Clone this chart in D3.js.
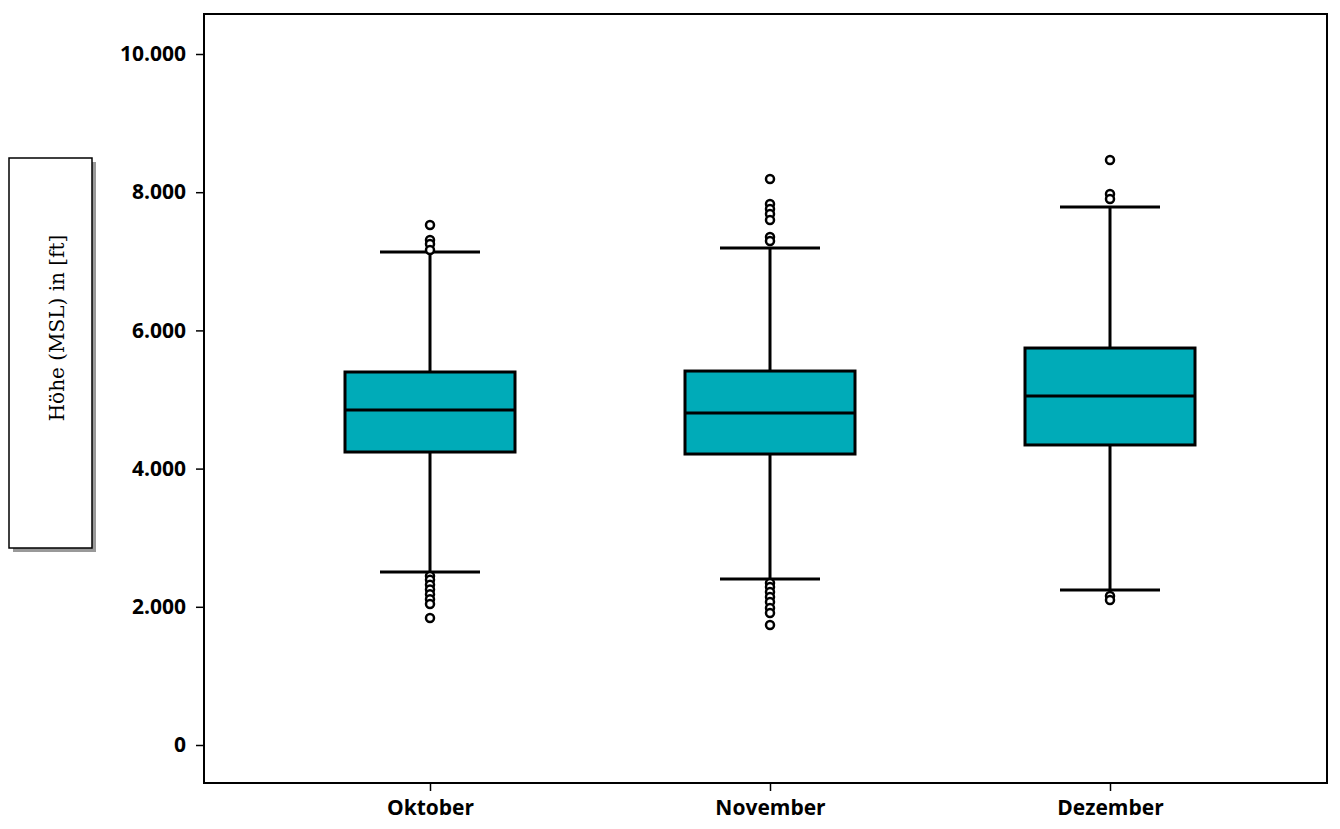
<!DOCTYPE html>
<html><head><meta charset="utf-8">
<script src="https://cdn.jsdelivr.net/npm/d3@7"></script>
<style>body{margin:0;background:#fff}</style>
</head><body>
<svg id="chart" width="1340" height="829"></svg>
<script>
// Höhe per Monat
var months = ["Oktober", "November", "Dezember"];
var whiskerLow = [2504, 2402, 2243];
var q1 = [4240, 4211, 4342];
var median = [4848, 4805, 5051];
var q3 = [5398, 5412, 5745];
var whiskerHigh = [7134, 7192, 7786];
var outliers = [
  [7525, 7308, 7250, 7163, 2445, 2390, 2320, 2250, 2180, 2110, 2040, 1838],
  [8191, 7829, 7757, 7685, 7598, 7352, 7294, 2344, 2286, 2214, 2142, 2069, 1982, 1910, 1737],
  [8466, 7974, 7902, 2156, 2098]
];
var yTicks = [0, 2000, 4000, 6000, 8000, 10000];

var svg = d3.select("#chart");
var plotLeft = 204, plotTop = 14, plotRight = 1327, plotBottom = 783;

var x = d3.scalePoint().domain(months).range([430, 1110]);
var y = d3.scaleLinear().domain([0, 10000]).range([745, 54]);
var fmt = function(v){ return d3.format(",")(v).replace(/,/g, "."); };

// frame
svg.append("rect").attr("x", plotLeft).attr("y", plotTop)
  .attr("width", plotRight - plotLeft).attr("height", plotBottom - plotTop)
  .attr("fill", "none").attr("stroke", "#000").attr("stroke-width", 2);

// y axis
var ya = svg.append("g").attr("transform", "translate(" + plotLeft + ",0)")
  .call(d3.axisLeft(y).tickValues(yTicks).tickFormat(fmt).tickSize(8).tickPadding(10));
ya.select(".domain").remove();
ya.selectAll("line").attr("stroke", "#000").attr("stroke-width", 1.5);
ya.selectAll("text").attr("font-family", "Open Sans, sans-serif")
  .attr("font-weight", "bold").attr("font-size", 21).attr("fill", "#000");

// x axis
var xa = svg.append("g").attr("transform", "translate(0," + plotBottom + ")")
  .call(d3.axisBottom(x).tickSize(8).tickPadding(9));
xa.select(".domain").remove();
xa.selectAll("line").attr("stroke", "#000").attr("stroke-width", 1.5);
xa.selectAll("text").attr("font-family", "Open Sans, sans-serif")
  .attr("font-weight", "bold").attr("font-size", 21).attr("fill", "#000");

// y label box
svg.append("rect").attr("x", 13).attr("y", 162).attr("width", 83).attr("height", 390).attr("fill", "#999");
svg.append("rect").attr("x", 9).attr("y", 158).attr("width", 83).attr("height", 390)
  .attr("fill", "#fff").attr("stroke", "#000").attr("stroke-width", 1.5);
svg.append("text").attr("transform", "translate(64,328) rotate(-90)")
  .attr("text-anchor", "middle").attr("font-family", "DejaVu Serif, serif")
  .attr("font-size", 20).text("Höhe (MSL) in [ft]");

var bw = 170, cap = 100;
months.forEach(function(m, i){
  var cx = x(m);
  var g = svg.append("g").attr("stroke", "#000").attr("stroke-width", 3);
  g.append("line").attr("x1", cx).attr("x2", cx).attr("y1", y(whiskerLow[i])).attr("y2", y(whiskerHigh[i]));
  g.append("line").attr("x1", cx - cap/2).attr("x2", cx + cap/2).attr("y1", y(whiskerLow[i])).attr("y2", y(whiskerLow[i]));
  g.append("line").attr("x1", cx - cap/2).attr("x2", cx + cap/2).attr("y1", y(whiskerHigh[i])).attr("y2", y(whiskerHigh[i]));
  g.append("rect").attr("x", cx - bw/2).attr("y", y(q3[i])).attr("width", bw)
    .attr("height", y(q1[i]) - y(q3[i])).attr("fill", "#00abb8");
  g.append("line").attr("x1", cx - bw/2).attr("x2", cx + bw/2).attr("y1", y(median[i])).attr("y2", y(median[i]));
  g.selectAll("circle").data(outliers[i]).enter().append("circle")
    .attr("cx", cx).attr("cy", function(d){ return y(d); }).attr("r", 4)
    .attr("fill", "#fff").attr("stroke-width", 2.5);
});
</script>
</body></html>
